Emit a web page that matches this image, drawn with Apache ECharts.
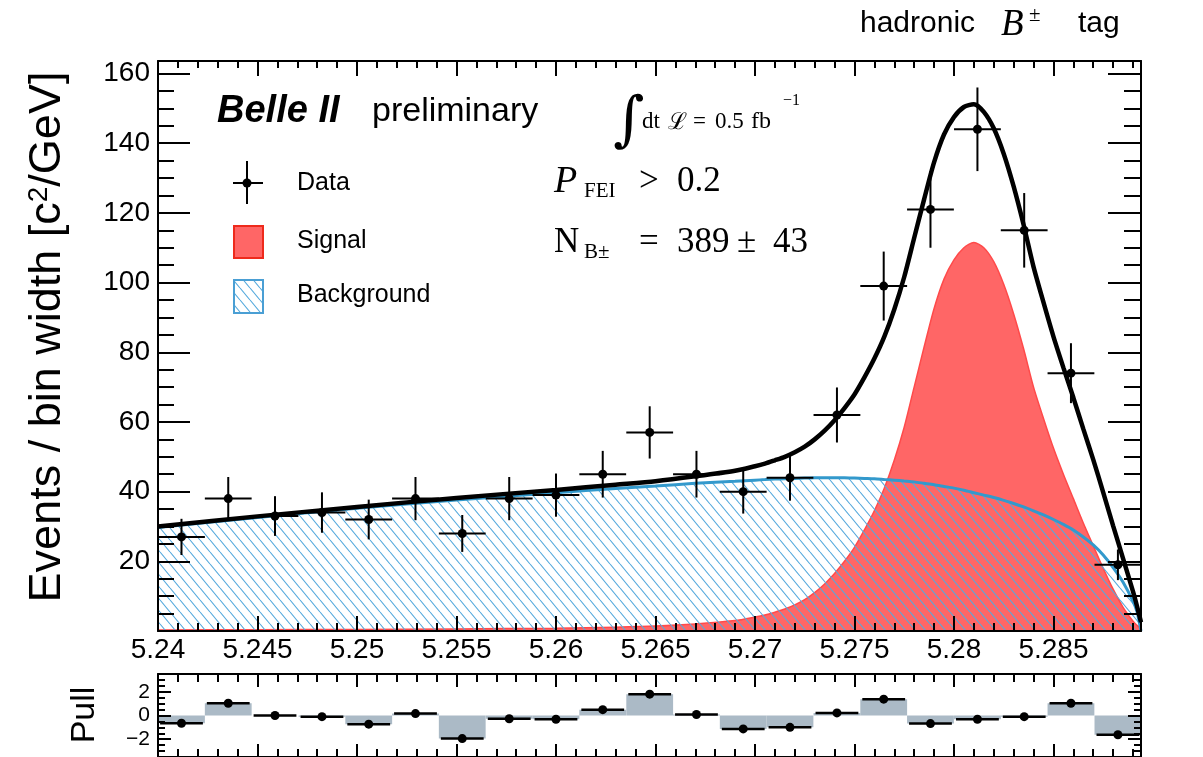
<!DOCTYPE html>
<html><head><meta charset="utf-8">
<script src="https://cdn.jsdelivr.net/npm/echarts@6/dist/echarts.min.js"></script>
<style>html,body{margin:0;padding:0;background:#fff}#c{width:1203px;height:757px}</style>
</head><body><div id="c"></div>
<script>
// ---------------- data ----------------
const binCenters = [5.24118, 5.24353, 5.24588, 5.24824, 5.25059, 5.25294, 5.25529, 5.25765, 5.26000, 5.26235, 5.26471,
  5.26706, 5.26941, 5.27176, 5.27412, 5.27647, 5.27882, 5.28118, 5.28353, 5.28588, 5.28824];
const dataCounts = [27, 38, 33, 34, 32, 38, 28, 38, 39, 45, 57, 45, 40, 44, 62, 99, 121, 144, 115, 74, 19];
const dataErrors = [5.2, 6.2, 5.7, 5.8, 5.7, 6.2, 5.3, 6.2, 6.2, 6.7, 7.5, 6.7, 6.3, 6.6, 7.9, 9.9, 11.0, 12.0, 10.7, 8.6, 4.4];
const pullValues = [-0.65, 1.03, 0.0, -0.1, -0.73, 0.16, -1.95, -0.27, -0.32, 0.49, 1.8, 0.08, -1.13, -1.0, 0.22, 1.38,
  -0.68, -0.32, -0.1, 1.03, -1.62];

const curveX = [5.2400, 5.2450, 5.2500, 5.2550, 5.2600, 5.2630, 5.2650, 5.2670, 5.2690,
  5.2700, 5.2705, 5.2710, 5.2715, 5.2720, 5.2725, 5.2730, 5.2735, 5.2740, 5.2745,
  5.2750, 5.2755, 5.2760, 5.2765, 5.2770, 5.2775, 5.2780, 5.2785, 5.2790, 5.2795,
  5.2800, 5.2805, 5.2810, 5.2815, 5.2820, 5.2825, 5.2830, 5.2835, 5.2840, 5.2845,
  5.2850, 5.2855, 5.2860, 5.2865, 5.2870, 5.2875, 5.2880, 5.2885, 5.2890, 5.2892, 5.2894];
const backgroundY = [29.7, 32.6, 35.2, 37.6, 39.7, 40.9, 41.6, 42.4, 43.0,
  43.3, 43.45, 43.6, 43.7, 43.8, 43.9, 44.0, 44.0, 44.0, 43.95,
  43.9, 43.8, 43.7, 43.5, 43.3, 43.05, 42.8, 42.4, 42.0, 41.5,
  41.0, 40.4, 39.7, 39.0, 38.3, 37.5, 36.6, 35.6, 34.5, 33.3,
  32.0, 30.6, 29.0, 27.0, 24.7, 21.8, 18.2, 14.0, 8.5, 5.5, 0.0];
const signalY = [0.3, 0.35, 0.45, 0.6, 0.8, 1.1, 1.4, 2.0, 3.0,
  4.0, 4.6, 5.4, 6.3, 7.5, 9.0, 11.0, 13.5, 16.5, 20.0,
  24.0, 29.0, 34.5, 41.0, 49.0, 58.5, 70.0, 81.5, 92.5, 101.0,
  106.5, 110.0, 111.5, 110.0, 106.0, 99.5, 91.0, 81.0, 70.0, 61.0,
  52.5, 45.0, 38.0, 31.0, 24.5, 18.0, 12.0, 6.8, 2.8, 1.6, 0.8];
const totalY = [30.0, 32.9, 35.6, 38.2, 40.5, 42.0, 43.0, 44.4, 46.0,
  47.3, 48.05, 49.0, 50.0, 51.3, 52.9, 55.0, 57.5, 60.5, 64.0,
  67.9, 72.8, 78.2, 84.5, 92.3, 101.6, 112.8, 123.9, 134.5, 142.5,
  147.5, 150.4, 151.2, 149.0, 144.3, 137.0, 127.6, 116.6, 104.5, 94.3,
  84.5, 75.6, 67.0, 58.0, 49.2, 39.8, 30.2, 20.8, 11.3, 7.1, 2.5];

const xMajorTicks = [5.24, 5.245, 5.25, 5.255, 5.26, 5.265, 5.27, 5.275, 5.28, 5.285];
const yMajorTicks = [20, 40, 60, 80, 100, 120, 140, 160];
const pullLabelTicks = [-2, 0, 2];

const X_MIN = 5.24, X_MAX = 5.2894, Y_MAX = 163.6, PULL_MIN = -3.5, PULL_MAX = 3.5;
const BIN_HALF = 0.001176;

// minor tick positions
const xMinorTicks = [];
for (let i = 1; i <= 49; i++) { if (i % 5 !== 0) xMinorTicks.push(Math.round((5.24 + i * 0.001) * 1e4) / 1e4); }
const yMinorTicks = [];
for (let v = 5; v < 163; v += 5) { if (v % 20 !== 0) yMinorTicks.push(v); }
const pullMinorTicks = [];
for (let v = -3.5; v <= 3.5; v += 0.5) { if (![-2, 0, 2].includes(v)) pullMinorTicks.push(v); }

// ---------------- style ----------------
const SANS = '"Liberation Sans", Arial, Helvetica, sans-serif';
const SERIF = '"Liberation Serif", "DejaVu Serif", serif';

function hatchCanvas() {
  const w = 10, h = 12;
  const cv = document.createElement('canvas'); cv.width = w; cv.height = h;
  const ctx = cv.getContext('2d');
  ctx.strokeStyle = '#55aadd'; ctx.lineWidth = 1.1;
  ctx.beginPath();
  for (const dx of [-w, 0, w]) { ctx.moveTo(dx, 0); ctx.lineTo(dx + w, h); }
  ctx.stroke();
  return cv;
}
const HATCH = { image: hatchCanvas(), repeat: 'repeat' };

const MAIN = { left: 158, top: 61, width: 983, height: 570 };
const PULL = { left: 158, top: 674, width: 983, height: 84 };

function xAx(g, pos, ticks, len, labels, line) {
  return {
    type: 'value', gridIndex: g, position: pos, min: X_MIN, max: X_MAX, z: 10,
    axisLine: { show: !!line, onZero: false, lineStyle: { color: '#000', width: 2 } },
    axisTick: { show: true, inside: true, length: len, customValues: ticks, lineStyle: { color: '#000', width: 2 } },
    axisLabel: labels ? { show: true, customValues: labels, fontSize: 28, color: '#000', fontFamily: SANS, margin: 5,
      formatter: v => String(Math.round(v * 1000) / 1000) } : { show: false },
    splitLine: { show: false }
  };
}
function yAx(g, pos, min, max, ticks, len, labels, line, fs) {
  return {
    type: 'value', gridIndex: g, position: pos, min: min, max: max, z: 10,
    axisLine: { show: !!line, onZero: false, lineStyle: { color: '#000', width: 2 } },
    axisTick: { show: true, inside: true, length: len, customValues: ticks, lineStyle: { color: '#000', width: 2 } },
    axisLabel: labels ? { show: true, customValues: labels, fontSize: fs, color: '#000', fontFamily: SANS, margin: 8,
      formatter: v => (v < 0 ? '\u2212' + (-v) : String(v)) } : { show: false },
    splitLine: { show: false }
  };
}

const grids = [MAIN, MAIN, MAIN, MAIN, PULL, PULL, PULL, PULL].map(r => Object.assign({ containLabel: false }, r));

const xAxes = [
  xAx(0, 'bottom', xMajorTicks, 15, xMajorTicks, true),
  xAx(1, 'bottom', xMinorTicks, 8, null, false),
  xAx(2, 'top', xMajorTicks, 15, null, true),
  xAx(3, 'top', xMinorTicks, 7, null, false),
  xAx(4, 'bottom', xMajorTicks, 13, null, true),
  xAx(5, 'bottom', xMinorTicks, 8, null, false),
  xAx(6, 'top', xMajorTicks, 13, null, true),
  xAx(7, 'top', xMinorTicks, 8, null, false)
];
const yAxes = [
  yAx(0, 'left', 0, Y_MAX, yMajorTicks, 32, yMajorTicks, true, 28),
  yAx(1, 'left', 0, Y_MAX, yMinorTicks, 16, null, false),
  yAx(2, 'right', 0, Y_MAX, yMajorTicks, 33, null, true),
  yAx(3, 'right', 0, Y_MAX, yMinorTicks, 17, null, false),
  yAx(4, 'left', PULL_MIN, PULL_MAX, pullLabelTicks, 13, pullLabelTicks, true, 21),
  yAx(5, 'left', PULL_MIN, PULL_MAX, pullMinorTicks, 7, null, false),
  yAx(6, 'right', PULL_MIN, PULL_MAX, pullLabelTicks, 13, null, true),
  yAx(7, 'right', PULL_MIN, PULL_MAX, pullMinorTicks, 7, null, false)
];

const series = [
  { type: 'line', name: 'Signal', xAxisIndex: 0, yAxisIndex: 0, data: curveX.map((x, i) => [x, signalY[i]]),
    showSymbol: false, smooth: 0.25, lineStyle: { color: '#ff4a4a', width: 1.5 },
    areaStyle: { color: '#ff6666', opacity: 1 }, z: 2, silent: true },
  { type: 'line', name: 'Background', xAxisIndex: 0, yAxisIndex: 0, data: curveX.map((x, i) => [x, backgroundY[i]]),
    showSymbol: false, smooth: 0.25, lineStyle: { color: '#3399cc', width: 3 },
    areaStyle: { color: HATCH, opacity: 1 }, z: 3, silent: true },
  { type: 'line', name: 'Fit', xAxisIndex: 0, yAxisIndex: 0, data: curveX.map((x, i) => [x, totalY[i]]),
    showSymbol: false, smooth: 0.25, lineStyle: { color: '#000', width: 4.5 }, z: 4, silent: true },
  { type: 'custom', name: 'Data', xAxisIndex: 0, yAxisIndex: 0, z: 5, silent: true,
    data: binCenters.map((x, i) => [x, dataCounts[i], dataErrors[i]]), encode: { x: 0, y: 1 },
    renderItem: function (params, api) {
      const x = api.value(0), y = api.value(1), e = api.value(2);
      const c = api.coord([x, y]);
      const lo = api.coord([x - BIN_HALF, y]), hi = api.coord([x + BIN_HALF, y]);
      const top = api.coord([x, y + e]), bot = api.coord([x, y - e]);
      return { type: 'group', children: [
        { type: 'line', shape: { x1: lo[0], y1: c[1], x2: hi[0], y2: c[1] }, style: { stroke: '#000', lineWidth: 2 } },
        { type: 'line', shape: { x1: c[0], y1: top[1], x2: c[0], y2: bot[1] }, style: { stroke: '#000', lineWidth: 2 } },
        { type: 'circle', shape: { cx: c[0], cy: c[1], r: 4.5 }, style: { fill: '#000' } }
      ] };
    } },
  { type: 'custom', name: 'Pull', xAxisIndex: 4, yAxisIndex: 4, z: 5, silent: true,
    data: binCenters.map((x, i) => [x, pullValues[i]]), encode: { x: 0, y: 1 },
    renderItem: function (params, api) {
      const x = api.value(0), p = api.value(1);
      const a = api.coord([x - BIN_HALF, 0]), b = api.coord([x + BIN_HALF, p]);
      const c = api.coord([x, p]);
      return { type: 'group', children: [
        { type: 'rect', shape: { x: a[0], y: Math.min(a[1], b[1]), width: b[0] - a[0], height: Math.abs(b[1] - a[1]) },
          style: { fill: '#abbac6' } },
        { type: 'line', shape: { x1: a[0] + 2, y1: b[1], x2: b[0] - 2, y2: b[1] }, style: { stroke: '#000', lineWidth: 2.5 } },
        { type: 'circle', shape: { cx: c[0], cy: c[1], r: 4.5 }, style: { fill: '#000' } }
      ] };
    } }
];

function txt(x, y, text, font, extra) {
  return Object.assign({ type: 'text', x: x, y: y, z: 100,
    style: { text: text, font: font, fill: '#000', align: 'left', verticalAlign: 'middle' } }, extra || {});
}

const graphics = [
  // y-axis titles
  { type: 'text', x: 48, y: 337, rotation: Math.PI / 2, z: 100,
    style: { text: 'Events / bin width [c{sup|2}/GeV]', font: '45px ' + SANS, fill: '#000', align: 'center', verticalAlign: 'middle',
      rich: { sup: { fontSize: 28, fontFamily: SANS, verticalAlign: 'top', lineHeight: 28, padding: [0, 0, 15, 0] } } } },
  { type: 'text', x: 85, y: 715, rotation: Math.PI / 2, z: 100,
    style: { text: 'Pull', font: '34px ' + SANS, fill: '#000', align: 'center', verticalAlign: 'middle' } },
  // title
  txt(860, 24, 'hadronic', '30px ' + SANS),
  txt(1001, 25, 'B', 'italic 37px ' + SERIF),
  txt(1029, 15, '\u00b1', '21px ' + SERIF),
  txt(1078, 24, 'tag', '30px ' + SANS),
  // Belle II preliminary
  txt(217, 112, 'Belle II', 'italic bold 38px ' + SANS),
  txt(372, 112, 'preliminary', '34px ' + SANS),
  // luminosity
  txt(613, 123, '\u222b', '60px "DejaVu Serif", serif'),
  txt(642, 122, 'dt', '23px ' + SERIF),
  txt(668, 123, '\u2112', '23px ' + SERIF),
  txt(693, 122, '=', '23px ' + SERIF),
  txt(715, 122, '0.5', '23px ' + SERIF),
  txt(751, 122, 'fb', '24px ' + SERIF),
  txt(783, 101, '\u22121', '16px ' + SERIF),
  // P_FEI > 0.2
  txt(554, 182, 'P', 'italic 38px ' + SERIF),
  txt(584, 191, 'FEI', '21px ' + SERIF),
  txt(639, 182, '>', '35px ' + SERIF),
  txt(677, 182, '0.2', '35px ' + SERIF),
  // N_B = 389 +- 43
  txt(554, 243, 'N', '35px ' + SERIF),
  txt(584, 252, 'B\u00b1', '21px ' + SERIF),
  txt(639, 243, '=', '35px ' + SERIF),
  txt(677, 243, '389', '35px ' + SERIF),
  txt(737, 243, '\u00b1', '35px ' + SERIF),
  txt(773, 243, '43', '35px ' + SERIF),
  // legend
  { type: 'line', z: 100, shape: { x1: 247, y1: 161, x2: 247, y2: 204 }, style: { stroke: '#000', lineWidth: 2 } },
  { type: 'line', z: 100, shape: { x1: 233, y1: 183, x2: 263, y2: 183 }, style: { stroke: '#000', lineWidth: 2 } },
  { type: 'circle', z: 100, shape: { cx: 247, cy: 183, r: 4.5 }, style: { fill: '#000' } },
  txt(297, 183, 'Data', '25px ' + SANS),
  { type: 'rect', z: 100, shape: { x: 234, y: 226, width: 29, height: 32 }, style: { fill: '#ff6666', stroke: '#ee2a1c', lineWidth: 2 } },
  txt(297, 241, 'Signal', '25px ' + SANS),
  { type: 'rect', z: 100, shape: { x: 234, y: 280, width: 29, height: 33 }, style: { fill: HATCH, stroke: '#4a9fd4', lineWidth: 2 } },
  txt(297, 295, 'Background', '25px ' + SANS)
];

const chart = echarts.init(document.getElementById('c'), null, { renderer: 'canvas' });
chart.setOption({
  animation: false,
  backgroundColor: '#fff',
  grid: grids,
  xAxis: xAxes,
  yAxis: yAxes,
  series: series,
  graphic: graphics
});
</script></body></html>
